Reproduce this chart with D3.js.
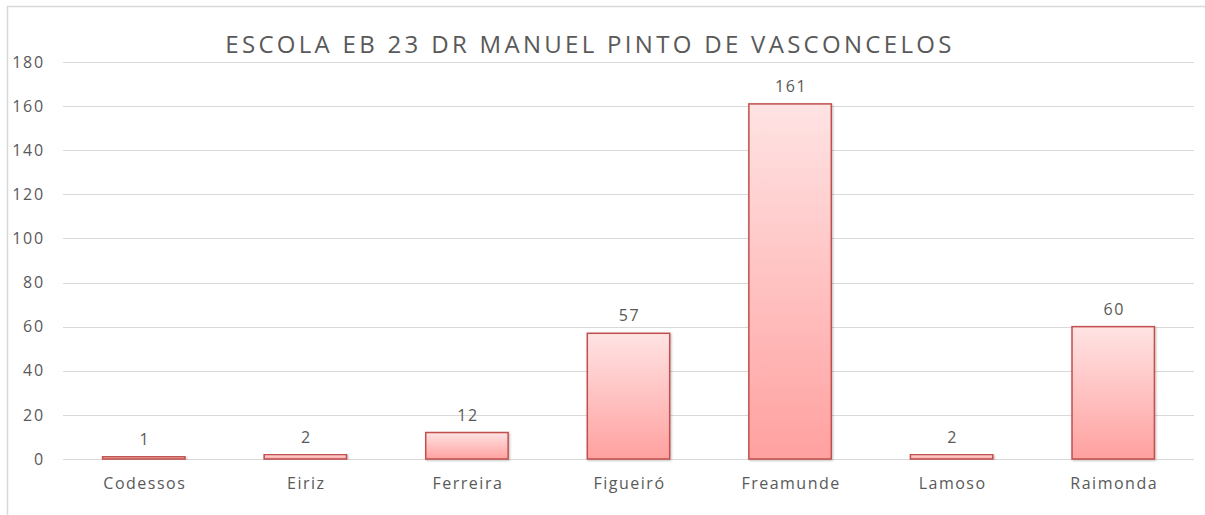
<!DOCTYPE html>
<html>
<head>
<meta charset="utf-8">
<script src="https://cdn.jsdelivr.net/npm/d3@7"></script>
<style>
  body { margin: 0; background: #fff; }
  text { font-family: "Open Sans", "Noto Sans", sans-serif; }
</style>
</head>
<body>
<div id="chart"></div>
<script>
var categories = ["Codessos", "Eiriz", "Ferreira", "Figueiró", "Freamunde", "Lamoso", "Raimonda"];
var values = [1, 2, 12, 57, 161, 2, 60];
var yTicks = [0, 20, 40, 60, 80, 100, 120, 140, 160, 180];
var title = "ESCOLA EB 23 DR MANUEL PINTO DE VASCONCELOS";

function init() {
    var w = 1205, h = 515;
    var left = 63, right = 1194, top = 62, bottom = 459;

    var svg = d3.select("#chart").append("svg")
        .attr("width", w)
        .attr("height", h);

    var defs = svg.append("defs");
    var grad = defs.append("linearGradient")
        .attr("id", "barGrad")
        .attr("x1", 0).attr("y1", 0).attr("x2", 0).attr("y2", 1);
    grad.append("stop").attr("offset", "0%").attr("stop-color", "#ffe3e3");
    grad.append("stop").attr("offset", "100%").attr("stop-color", "#ffa1a0");

    var shadow = defs.append("filter").attr("id", "shadow")
        .attr("x", "-10%").attr("y", "-10%").attr("width", "130%").attr("height", "130%");
    shadow.append("feDropShadow")
        .attr("dx", 1).attr("dy", 1).attr("stdDeviation", 1.2)
        .attr("flood-color", "#000").attr("flood-opacity", 0.25);

    // outer frame
    svg.append("path")
        .attr("d", "M7.5," + h + " V6.5 H" + w)
        .attr("fill", "none")
        .attr("stroke", "#d9d9d9")
        .attr("stroke-width", 1.5);

    var x = d3.scaleBand()
        .domain(categories)
        .range([left, right])
        .paddingInner(0.49)
        .paddingOuter(0.245);

    var y = d3.scaleLinear()
        .domain([0, 180])
        .range([bottom, top]);

    // gridlines
    svg.append("g")
        .selectAll("line")
        .data(yTicks)
        .enter()
        .append("line")
        .attr("x1", left)
        .attr("x2", right)
        .attr("y1", function(d) { return Math.round(y(d)) + 0.5; })
        .attr("y2", function(d) { return Math.round(y(d)) + 0.5; })
        .attr("stroke", "#d9d9d9")
        .attr("stroke-width", 1);

    var yAxis = d3.axisLeft(y)
        .tickValues(yTicks)
        .tickSize(0)
        .tickPadding(0);

    var gy = svg.append("g")
        .attr("transform", "translate(45,0)")
        .call(yAxis);
    gy.select(".domain").remove();
    gy.selectAll("text")
        .attr("fill", "#595959")
        .style("font-size", "16px")
        .style("letter-spacing", "1.8px");

    var xAxis = d3.axisBottom(x)
        .tickSize(0)
        .tickPadding(0);

    var gx = svg.append("g")
        .attr("transform", "translate(1," + (bottom + 19) + ")")
        .call(xAxis);
    gx.select(".domain").remove();
    gx.selectAll("text")
        .attr("fill", "#595959")
        .style("font-size", "16px")
        .style("letter-spacing", "1.5px");

    // bars
    svg.selectAll("rect.bar")
        .data(values)
        .enter()
        .append("rect")
        .attr("class", "bar")
        .attr("x", function(d, i) { return x(categories[i]); })
        .attr("y", function(d) { return y(d); })
        .attr("width", x.bandwidth())
        .attr("height", function(d) { return bottom - y(d); })
        .attr("fill", "url(#barGrad)")
        .attr("stroke", "#c0504d")
        .attr("stroke-width", 1.5)
        .attr("filter", "url(#shadow)");

    // value labels
    svg.selectAll("text.val")
        .data(values)
        .enter()
        .append("text")
        .attr("class", "val")
        .attr("x", function(d, i) { return x(categories[i]) + x.bandwidth() / 2 + 1; })
        .attr("y", function(d) { return y(d) - 12; })
        .attr("text-anchor", "middle")
        .attr("fill", "#595959")
        .style("font-size", "16px")
        .style("letter-spacing", "1.5px")
        .text(function(d) { return d; });

    svg.append("text")
        .attr("x", 590)
        .attr("y", 53)
        .attr("text-anchor", "middle")
        .attr("fill", "#595959")
        .style("font-size", "24px")
        .style("letter-spacing", "3.3px")
        .text(title);
}

window.onload = init;
</script>
</body>
</html>
